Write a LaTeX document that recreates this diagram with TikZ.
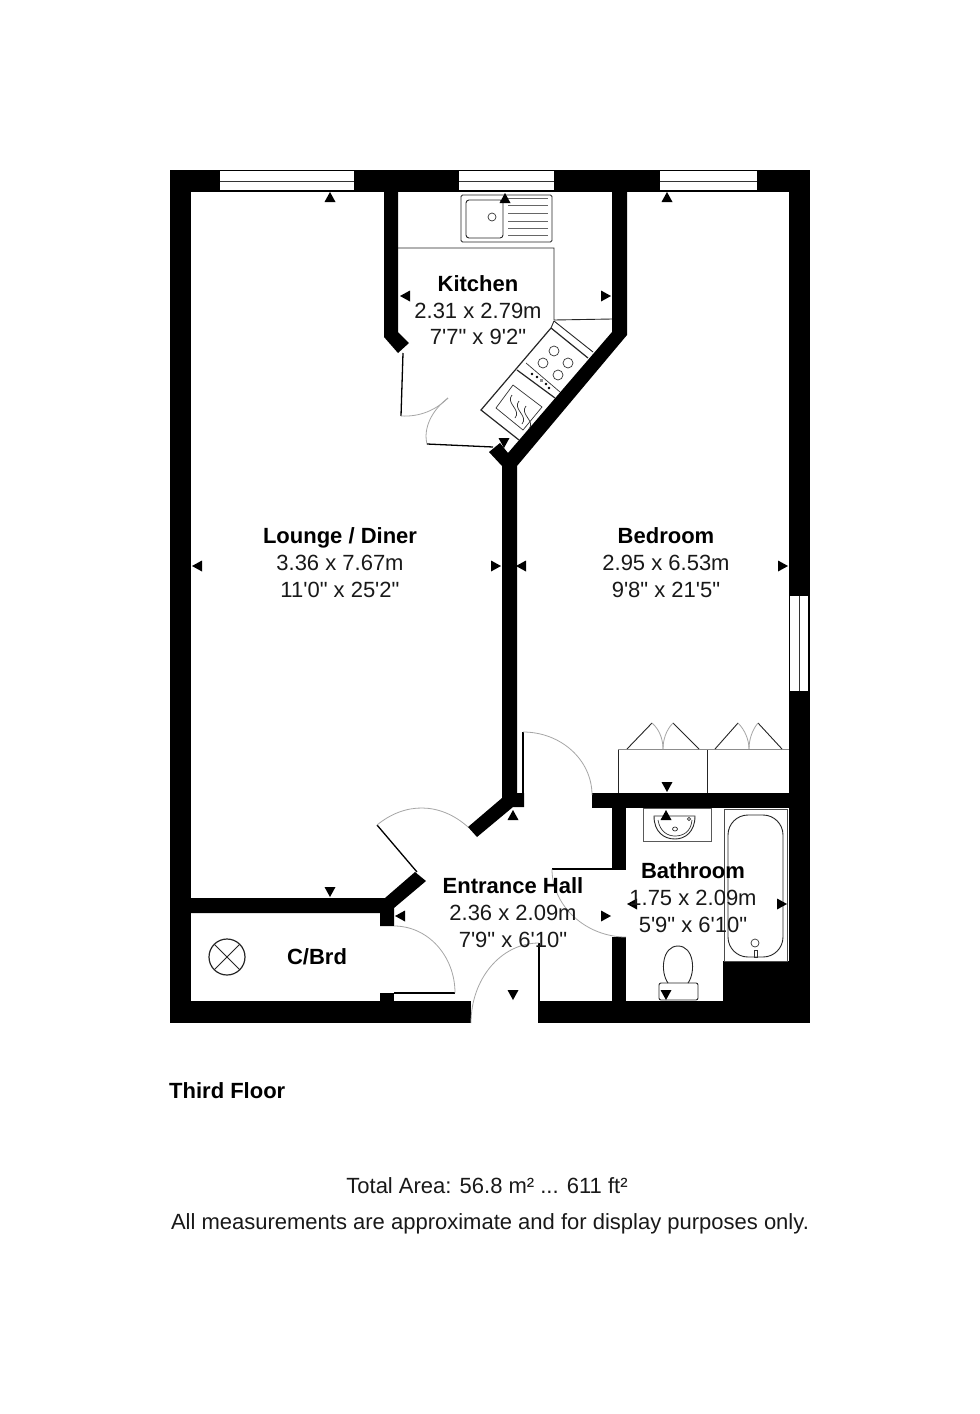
\documentclass[tikz,border=0pt]{standalone}
\usepackage{fontspec}
\setmainfont{Liberation Sans}[Ligatures=TeXOff]
\tikzset{
  wall/.style={fill=black,draw=none},
  win/.style={fill=white,draw=none},
  fix/.style={draw=black!85,line width=0.9pt,fill=none},
  fixthin/.style={draw=black!80,line width=0.7pt,fill=none},
  doorleaf/.style={draw=black,line width=1.3pt},
  doorarc/.style={draw=black!35,line width=0.8pt},
  tri/.style={fill=black,draw=none},
  title/.style={font=\fontsize{22}{26}\selectfont\bfseries,anchor=base,text=black,inner sep=0pt},
  sub/.style={font=\fontsize{22}{26}\selectfont,anchor=base,text=black!90,inner sep=0pt}
}
\newcommand{\triU}[2]{\fill[tri] (#1-5.5,#2+5) -- (#1+5.5,#2+5) -- (#1,#2-5) -- cycle;}
\newcommand{\triD}[2]{\fill[tri] (#1-5.5,#2-5) -- (#1+5.5,#2-5) -- (#1,#2+5) -- cycle;}
\newcommand{\triL}[2]{\fill[tri] (#1+5,#2-5.5) -- (#1+5,#2+5.5) -- (#1-5,#2) -- cycle;}
\newcommand{\triR}[2]{\fill[tri] (#1-5,#2-5.5) -- (#1-5,#2+5.5) -- (#1+5,#2) -- cycle;}
\begin{document}
\begin{tikzpicture}[x=1pt,y=-1pt]
\useasboundingbox (0,0) rectangle (980,1414);
\fill[white] (0,0) rectangle (980,1414);
% outer walls
\fill[wall] (170,170) rectangle (810,192);
\fill[wall] (170,170) rectangle (191,1023);
\fill[wall] (789,170) rectangle (810,1023);
\fill[wall] (170,1001) rectangle (471,1023);
\fill[wall] (539,1001) rectangle (810,1023);
\fill[wall] (723,961) rectangle (789,1001);
% kitchen walls
\fill[wall] (384,190) -- (398,190) -- (398,332) -- (409,343) -- (398,353) -- (384,337) -- cycle;
\fill[wall] (612,190) -- (627,190) -- (627,335) -- (517,466) -- (517,793) -- (524,793) -- (524,807) -- (513,807) -- (477,837) -- (468,827) -- (502,798) -- (502,466) -- (489,452) -- (500,443) -- (508,453) -- (612,332) -- cycle;
% cupboard
\fill[wall] (191,898) -- (385,898) -- (415,872) -- (426,881) -- (394,908) -- (394,926) -- (380,926) -- (380,913) -- (191,913) -- cycle;
\fill[wall] (380,993) rectangle (394,1001);
% bedroom / bath walls
\fill[wall] (592,793) rectangle (789,808);
\fill[wall] (612,808) rectangle (626,869);
\fill[wall] (612,937) rectangle (626,1001);
% windows
\fill[win] (220,171) rectangle (354,189.5);
\fill[win] (459,171) rectangle (554,189.5);
\fill[win] (660,171) rectangle (757,189.5);
\fill[win] (790,596) rectangle (808,691);
\draw[fixthin] (220,181) -- (354,181);
\draw[fixthin] (459,181) -- (554,181);
\draw[fixthin] (660,181) -- (757,181);
\draw[fixthin] (799,596) -- (799,691);
% doors
\draw[doorleaf] (523,732) -- (523,793);
\draw[doorarc] (523,732) .. controls (561,732) and (592,760) .. (592,795);
\draw[doorleaf] (552,869) -- (626,869);
\draw[doorarc] (552,869) .. controls (552,906) and (586,937) .. (626,937);
\draw[doorleaf] (539,943) -- (539,1023);
\draw[doorarc] (539,943) .. controls (501,943) and (471,979) .. (471,1023);
\draw[doorleaf] (394,993) -- (455,993);
\draw[doorarc] (394,926) .. controls (428,926) and (455,956) .. (455,993);
\draw[doorleaf] (377,825) -- (417,872);
\draw[doorarc] (377,825) .. controls (405,802) and (440,802) .. (468,827);
\draw[doorleaf] (403,353) -- (401,416);
\draw[doorarc] (401,416) .. controls (420,417) and (436,410) .. (448,398);
\draw[doorarc] (448,398) .. controls (432,410) and (423,428) .. (427,444);
\draw[doorleaf] (427,444) -- (493,447);
% kitchen units
\draw[fix] (398,248) -- (554,248) -- (554,320) -- (612,319);
\draw[fix,rounded corners=1.5pt] (461,195) rectangle (552,242);
\draw[fix,rounded corners=3pt] (466,200) rectangle (503,238);
\draw[fixthin] (492,217) circle[radius=4];
\foreach \yy in {198,205,213,221,228,235} \draw[fixthin,draw=black!60] (508,\yy) -- (548,\yy);
\draw[fix] (554,321) -- (593,352);
\draw[fix] (554,321) -- (551,328);
\draw[fix,line width=1.2pt] (551,328) -- (481,410) -- (519,440);
\draw[fix,line width=1.2pt] (551,328) -- (588,358);
\draw[fix,line width=1.2pt] (517,370) -- (555,398);
\draw[fixthin] (513,385) -- (542,407) -- (523,430) -- (496,408) -- cycle;
\draw[fixthin] (512,395) .. controls (505,403) and (522,410) .. (515,418);
\draw[fixthin] (519,401) .. controls (512,409) and (529,416) .. (522,424);
\draw[fixthin] (526,406) .. controls (519,414) and (536,421) .. (529,429);
\foreach \cx/\cy in {554/351,543/363,568/363,558/375} \draw[fixthin] (\cx,\cy) circle[radius=5];
\draw[fixthin] (526,363) -- (560,392);
\foreach \cx/\cy in {532/374,537/377,546/384,549/388} \fill[black] (\cx,\cy) circle[radius=1.4];
\fill[black!45] (540,379) rectangle (543,382);
% wardrobes
\draw[fix] (618,793) -- (618,749);
\draw[fix] (707,749) -- (707,793);
\draw[fixthin,draw=black!45] (618,749) -- (789,749);
\draw[fix] (627,749) -- (652,723);
\draw[fix] (699,749) -- (673,723);
\draw[fix] (715,749) -- (738,723);
\draw[fix] (782,749) -- (758,723);
\draw[doorarc] (652,723) .. controls (660,730) and (663,740) .. (663,749);
\draw[doorarc] (673,723) .. controls (666,730) and (663,740) .. (663,749);
\draw[doorarc] (738,723) .. controls (745,730) and (749,740) .. (749,749);
\draw[doorarc] (758,723) .. controls (752,730) and (749,740) .. (749,749);
% basin
\draw[fix,draw=black!65] (643,808) rectangle (711,841);
\draw[fix] (654,816) -- (695,816) .. controls (695,832) and (685,839) .. (675,839) .. controls (664,839) and (654,832) .. (654,816) -- cycle;
\draw[fixthin] (658,820) .. controls (660,832) and (668,836) .. (675,836) .. controls (683,836) and (691,832) .. (692,820);
\draw[fixthin] (675,829) circle[x radius=2.5,y radius=2];
\draw[fixthin] (689,819) circle[radius=1.6];
% bath
\draw[fix,draw=black!70] (724,809) rectangle (787,961);
\draw[fix,rounded corners=20pt] (728,815) rectangle (783,957);
\draw[fixthin] (755,943) circle[radius=4];
\draw[fixthin] (754,950) rectangle (757,957);
% toilet
\draw[fix,rounded corners=2pt] (659,983) rectangle (698,1000);
\draw[fix] (668,983) .. controls (660,972) and (662,946) .. (678,946) .. controls (694,946) and (696,972) .. (688,983);
% cupboard symbol
\draw[fix,line width=1.2pt] (227,957) circle[radius=18];
\draw[fix] (214.3,944.3) -- (239.7,969.7);
\draw[fix] (239.7,944.3) -- (214.3,969.7);
% dimension arrows
\triU{330}{197}\triU{505}{198}\triU{667}{197}
\triL{197}{566}\triR{496}{566}\triL{521}{566}\triR{783}{566}
\triD{330}{892}\triD{667}{787}
\triU{513}{815}\triD{513}{995}\triL{400}{916}\triR{606}{916}
\triL{405}{296}\triR{606}{296}\triD{504}{443}
\triU{666}{815}\triD{666}{995}\triL{632}{904}\triR{782}{904}
% labels
\node[title] (loungeA) at (340,543.5) {Lounge / Diner};
\node[sub] (loungeB) at (340,570.5) {3.36 x 7.67m};
\node[sub] (loungeC) at (340,597.5) {11'0" x 25'2"};
\node[title] (kitA) at (478,291.5) {Kitchen};
\node[sub] (kitB) at (478,318.5) {2.31 x 2.79m};
\node[sub] (kitC) at (478,344.5) {7'7" x 9'2"};
\node[title] (bedA) at (666,543.5) {Bedroom};
\node[sub] (bedB) at (666,570.5) {2.95 x 6.53m};
\node[sub] (bedC) at (666,597.5) {9'8" x 21'5"};
\node[title] (hallA) at (513,893.5) {Entrance Hall};
\node[sub] (hallB) at (513,920.5) {2.36 x 2.09m};
\node[sub] (hallC) at (513,947.5) {7'9" x 6'10"};
\node[title] (bathA) at (693,878.5) {Bathroom};
\node[sub] (bathB) at (693,905.5) {1.75 x 2.09m};
\node[sub] (bathC) at (693,932.5) {5'9" x 6'10"};
\node[title] (cbrd) at (317,964.5) {C/Brd};
\node[title,anchor=base west] (floor) at (169,1098.5) {Third Floor};
\node[sub] (area) at (487,1193.5) {Total Area: 56.8 m² ... 611 ft²};
\node[sub] (note) at (490,1229.5) {All measurements are approximate and for display purposes only.};
\end{tikzpicture}
\end{document}
